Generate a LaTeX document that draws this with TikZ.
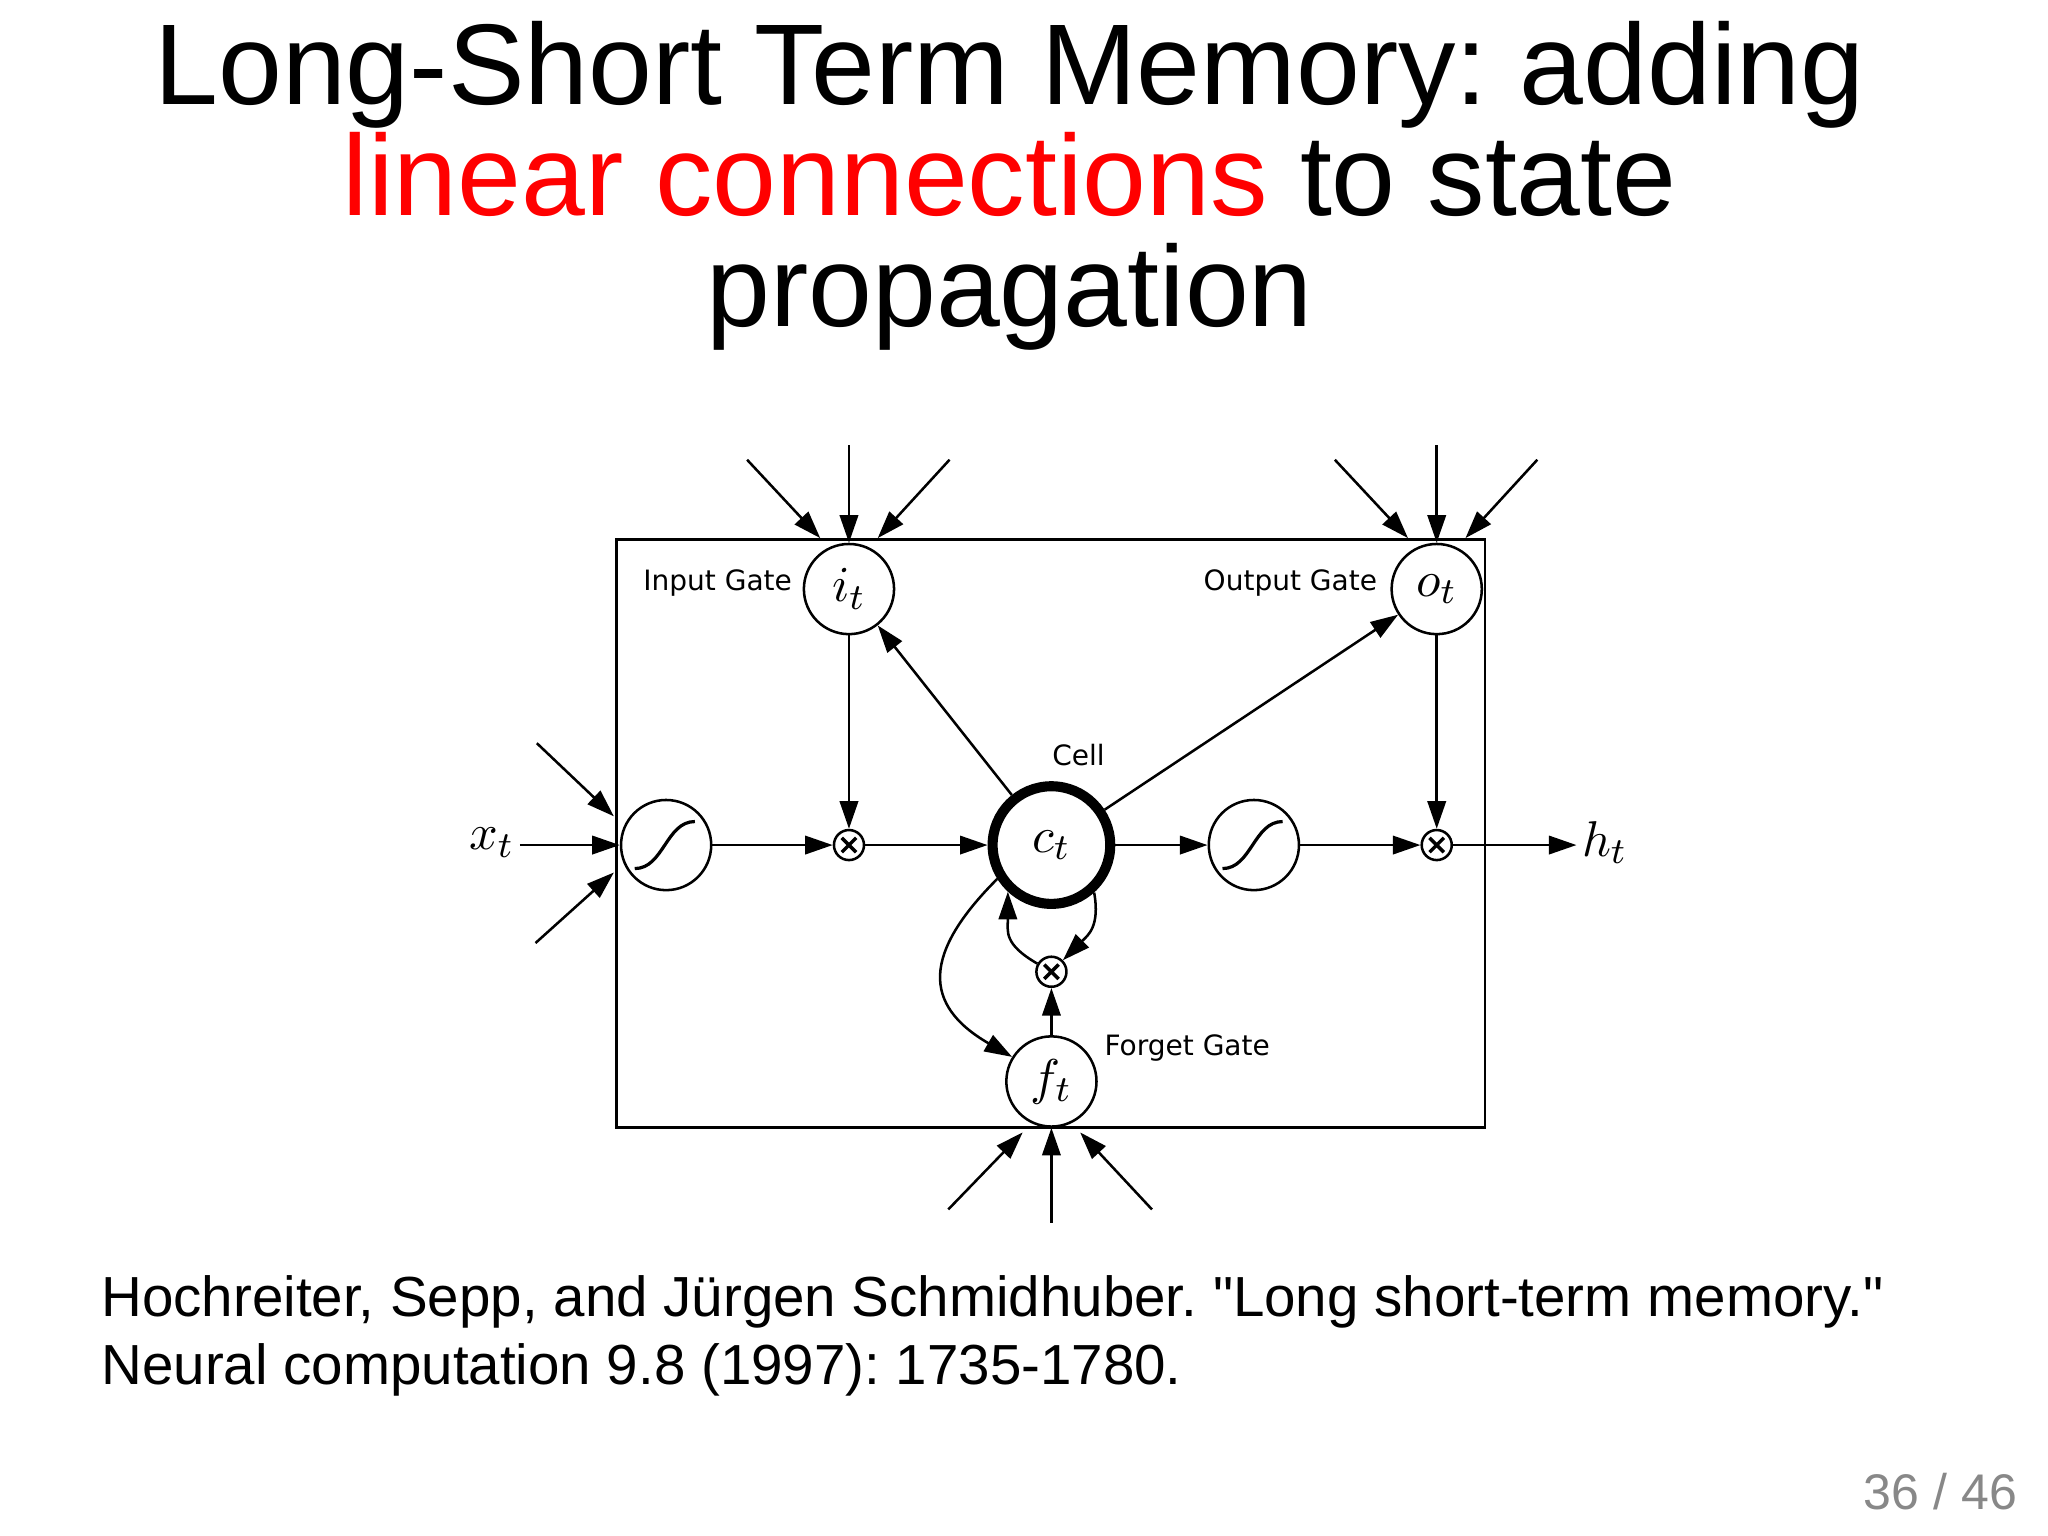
\documentclass[tikz,border=0pt]{standalone}
\usepackage{fontspec}
\setmainfont{Liberation Sans}
\newfontfamily\citefont{Liberation Sans}[Ligatures=TeXOff]
\newfontfamily\dejavu{DejaVu Sans}
\usetikzlibrary{arrows.meta}
\definecolor{pggray}{RGB}{136,136,136}
\frenchspacing
\tikzset{
  gate/.style={circle, draw, line width=0.55pt, minimum size=0.69cm, inner sep=0pt, font=\fontsize{11}{13}\selectfont},
  cellnode/.style={circle, draw, line width=2.2pt, minimum size=0.9cm, inner sep=0pt, font=\fontsize{11}{13}\selectfont},
  mult/.style={circle, draw, line width=0.55pt, minimum size=0.23cm, inner sep=0pt,
    path picture={\draw[line width=0.75pt]
      ([shift={(-0.055cm,-0.055cm)}]path picture bounding box.center) -- ([shift={(0.055cm,0.055cm)}]path picture bounding box.center)
      ([shift={(-0.055cm,0.055cm)}]path picture bounding box.center) -- ([shift={(0.055cm,-0.055cm)}]path picture bounding box.center);}},
  sigm/.style={gate,
    path picture={\draw[line width=0.7pt]
      ([shift={(-0.24cm,-0.18cm)}]path picture bounding box.center) .. controls
      ([shift={(-0.02cm,-0.18cm)}]path picture bounding box.center) and
      ([shift={(0cm,0.18cm)}]path picture bounding box.center) ..
      ([shift={(0.22cm,0.18cm)}]path picture bounding box.center);}},
  conn/.style={line width=0.55pt, -{Triangle[length=6pt,width=4pt]}},
  lbl/.style={font=\dejavu\fontsize{6.1}{7}\selectfont, inner sep=0pt},
  mathlbl/.style={font=\fontsize{11}{13}\selectfont, inner sep=1pt},
  ttl/.style={font=\fontsize{25}{25}\selectfont\frenchspacing, inner sep=0pt, anchor=base},
  cite/.style={font=\citefont\fontsize{12.3}{14}\selectfont\frenchspacing, inner sep=0pt, anchor=base west}
}
\begin{document}
\begin{tikzpicture}[x=0.01cm, y=-0.01cm]
\fill[white] (0,0) rectangle (1568,1176);
\useasboundingbox (0,0) rectangle (1568,1176);

% title
\node[ttl] (t1) at (773,80) {Long-Short Term Memory: adding};
\node[ttl] (t2) at (773,165) {\textcolor{red}{linear connections} to state};
\node[ttl] (t3) at (773,250) {propagation};

% citation
\node[cite] (c1) at (77,1008) {Hochreiter, Sepp, and Jürgen Schmidhuber. "Long short-term memory."};
\node[cite] (c2) at (77,1060) {Neural computation 9.8 (1997): 1735-1780.};
\node[font=\fontsize{10.9}{12}\selectfont, text=pggray, inner sep=0pt, anchor=base east] (pg) at (1545,1156) {36 / 46};

% box
\draw[line width=0.6pt] (472,413) rectangle (1137,863);

% nodes
\node[gate] (it) at (650,451) {$i_t$};
\node[gate] (ot) at (1100,451) {$o_t$};
\node[sigm] (sig1) at (510,647) {};
\node[mult] (m1) at (650,647) {};
\node[cellnode] (ct) at (805,647) {$c_t$};
\node[sigm] (sig2) at (960,647) {};
\node[mult] (m2) at (1100,647) {};
\node[mult] (m3) at (805,744) {};
\node[gate] (ft) at (805,828) {$f_t$};
\node[mathlbl, anchor=east] (xt) at (398,645) {$x_t$};
\node[mathlbl, anchor=west] (ht) at (1207,645) {$h_t$};

% labels
\node[lbl, anchor=base east] (inl) at (607,452) {Input Gate};
\node[lbl, anchor=base east] (outl) at (1055,452) {Output Gate};
\node[lbl, anchor=base west] (celll) at (805,586) {Cell};
\node[lbl, anchor=base west] (fgl) at (845,808) {Forget Gate};

% free ends
\coordinate (xa) at (411,569); \coordinate (xae) at (470,625);
\coordinate (xb) at (410,722); \coordinate (xbe) at (470,668);
\coordinate (ia) at (572,352); \coordinate (iae) at (628,412);
\coordinate (ib) at (650,341);
\coordinate (ic) at (727,352); \coordinate (ice) at (672,412);
\coordinate (oa) at (1022,352); \coordinate (oae) at (1078,412);
\coordinate (ob) at (1100,341);
\coordinate (oc) at (1177,352); \coordinate (oce) at (1122,412);
\coordinate (fa) at (726,926); \coordinate (fae) at (783,867);
\coordinate (fb) at (805,936);
\coordinate (fc) at (882,926); \coordinate (fce) at (827,867);

% external inputs
\draw[conn] (xa) -- (xae);
\draw[conn] (xb) -- (xbe);
\draw[conn] (xt.east |- sig1) -- (sig1);
\draw[conn] (ia) -- (iae);
\draw[conn] (ib) -- (it);
\draw[conn] (ic) -- (ice);
\draw[conn] (oa) -- (oae);
\draw[conn] (ob) -- (ot);
\draw[conn] (oc) -- (oce);
\draw[conn] (fa) -- (fae);
\draw[conn] (fb) -- (ft);
\draw[conn] (fc) -- (fce);

% internal
\draw[conn] (it) -- (m1);
\draw[conn] (sig1) -- (m1);
\draw[conn] (m1) -- (ct);
\draw[conn] (ct) -- (it);
\draw[conn] (ct) -- (ot);
\draw[conn] (ct) -- (sig2);
\draw[conn] (sig2) -- (m2);
\draw[conn] (ot) -- (m2);
\draw[conn] (m2) -- (m2 -| ht.west);
\draw[conn] (ft) -- (m3);
\draw[conn] (m3.150) to[out=150, in=-90, looseness=1.3] (ct.227);
\draw[conn] (ct.-48) to[out=-80, in=45, looseness=1.2] (m3.45);
\draw[conn] (ct.212) to[out=225, in=150, looseness=1.5] (ft.148);
\end{tikzpicture}
\end{document}
